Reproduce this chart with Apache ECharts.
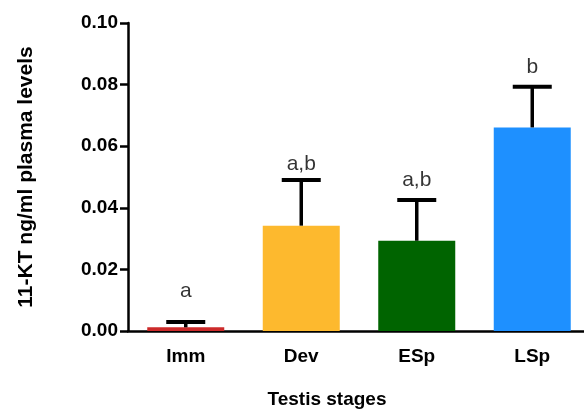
<!DOCTYPE html>
<html>
<head>
<meta charset="utf-8">
<script src="https://cdn.jsdelivr.net/npm/echarts@6/dist/echarts.min.js"></script>
<style>
  html, body { margin: 0; padding: 0; background: #fff; }
  #chart { width: 584px; height: 409px; }
</style>
</head>
<body>
<div id="chart"></div>
<script>
// stages and 11-KT means / SEM
const stages = ['Imm', 'Dev', 'ESp', 'LSp'];
const means = [0.0012, 0.0342, 0.0293, 0.0661];
const errors = [0.0017, 0.0148, 0.0132, 0.0132];
const letters = ['a', 'a,b', 'a,b', 'b'];
const letterY = [0.0130, 0.0540, 0.0488, 0.0857];
const barColors = ['#CC2A2A', '#FDB92E', '#006400', '#1E90FF'];
const yTicks = [0, 0.02, 0.04, 0.06, 0.08, 0.10];

const font = "'Liberation Sans', Arial, Helvetica, sans-serif";

const chart = echarts.init(document.getElementById('chart'));
chart.setOption({
    animation: false,
    grid: {
        left: 128,
        top: 23,
        bottom: 78,
        width: 462,
        containLabel: false,
        outerBoundsMode: 'none'
    },
    xAxis: {
        type: 'category',
        data: stages,
        name: 'Testis stages',
        nameLocation: 'middle',
        nameGap: 59,
        nameTextStyle: {
            fontFamily: font, fontWeight: 'bold', fontSize: 19, color: '#000',
            padding: [0, 64, 0, 0]
        },
        axisLine: { lineStyle: { color: '#000', width: 2.5 } },
        axisTick: { alignWithLabel: true, length: 8, lineStyle: { color: '#000', width: 2.5 } },
        axisLabel: { margin: 16, fontFamily: font, fontWeight: 'bold', fontSize: 19, color: '#000' }
    },
    yAxis: {
        type: 'value',
        min: 0,
        max: 0.10,
        interval: 0.02,
        name: '11-KT ng/ml plasma levels',
        nameLocation: 'middle',
        nameGap: 91,
        nameTextStyle: { fontFamily: font, fontWeight: 'bold', fontSize: 21, color: '#000' },
        splitLine: { show: false },
        axisLine: { show: true, lineStyle: { color: '#000', width: 2.5 } },
        axisTick: { show: true, length: 8, lineStyle: { color: '#000', width: 2.5 } },
        axisLabel: {
            margin: 10,
            fontFamily: font,
            fontWeight: 'bold',
            fontSize: 19,
            color: '#000',
            formatter: (v) => yTicks.some(t => Math.abs(t - v) < 1e-9) ? v.toFixed(2) : ''
        }
    },
    series: [
        {
            type: 'bar',
            barWidth: 77,
            data: means.map((v, i) => ({ value: v, itemStyle: { color: barColors[i] } })),
            z: 2
        },
        {
            type: 'custom',
            z: 3,
            data: means.map((v, i) => [i, v, v + errors[i]]),
            renderItem: (params, api) => {
                const base = api.coord([api.value(0), api.value(1)]);
                const top = api.coord([api.value(0), api.value(2)]);
                const half = 19.5;
                return {
                    type: 'group',
                    children: [
                        {
                            type: 'line',
                            shape: { x1: top[0], y1: top[1], x2: base[0], y2: base[1] },
                            style: { stroke: '#000', lineWidth: 3.5 }
                        },
                        {
                            type: 'line',
                            shape: { x1: top[0] - half, y1: top[1], x2: top[0] + half, y2: top[1] },
                            style: { stroke: '#000', lineWidth: 4 }
                        }
                    ]
                };
            }
        },
        {
            type: 'scatter',
            symbolSize: 0,
            z: 4,
            data: letterY.map((v, i) => [i, v]),
            label: {
                show: true,
                position: 'inside',
                formatter: (p) => letters[p.dataIndex],
                fontFamily: font,
                fontSize: 21,
                color: '#000'
            }
        }
    ]
});
</script>
</body>
</html>
